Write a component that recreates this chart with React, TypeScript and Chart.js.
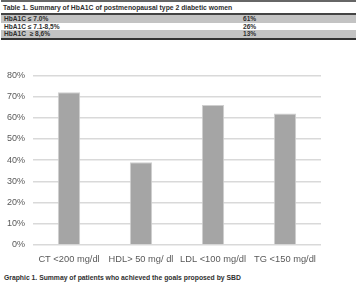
import React, { useEffect, useRef } from "react";
import { Chart, registerables } from "chart.js";

Chart.register(...registerables);

const tableTitle = "Table 1. Summary of HbA1C of postmenopausal type 2 diabetic women";
const tableLabels = ["HbA1C \u2264 7.0%", "HbA1C \u2264 7.1-8,5%", "HbA1C  \u2265 8,6%"];
const tableValues = ["61%", "26%", "13%"];

const categories = ["CT <200 mg/dl", "HDL> 50 mg/ dl", "LDL <100 mg/dl", "TG <150 mg/dl"];
const values = [0.72, 0.39, 0.66, 0.62];

const caption = "Graphic 1. Summay of patients who achieved the goals proposed by SBD";

const FONT = "'Liberation Sans', Arial, sans-serif";

export default function App() {
  const canvasRef = useRef<HTMLCanvasElement | null>(null);

  useEffect(() => {
    document.body.style.margin = "0";
    const canvas = canvasRef.current;
    if (!canvas) return;
    const chart = new Chart(canvas, {
      type: "bar",
      data: {
        labels: categories,
        datasets: [
          {
            data: values,
            backgroundColor: "#a5a5a5",
            borderColor: "#cfcfcf",
            borderWidth: 1,
            barPercentage: 0.31,
            categoryPercentage: 1,
          },
        ],
      },
      options: {
        animation: false,
        responsive: false,
        maintainAspectRatio: false,
        layout: { padding: { top: 12, right: 38, left: 0, bottom: 0 } },
        plugins: { legend: { display: false }, tooltip: { enabled: false } },
        scales: {
          x: {
            grid: { display: false, drawTicks: false },
            border: { display: false },
            ticks: {
              color: "#595959",
              font: { family: FONT, size: 9.3 },
              padding: 9,
              maxRotation: 0,
              autoSkip: false,
            },
            afterFit: (s: any) => {
              s.height = 22;
            },
          },
          y: {
            min: 0,
            max: 0.8,
            grid: { color: "#d9d9d9", lineWidth: 1.5, drawTicks: false },
            border: { display: false },
            ticks: {
              stepSize: 0.1,
              color: "#595959",
              font: { family: FONT, size: 9 },
              padding: 8,
              callback: (v: any) => Math.round(Number(v) * 100) + "%",
            },
            afterFit: (s: any) => {
              s.width = 33;
            },
          },
        },
      },
    });
    return () => chart.destroy();
  }, []);

  const rowStyle = (bg: string, top: number, h: number): React.CSSProperties => ({
    position: "absolute",
    left: 1,
    width: 355,
    top,
    height: h,
    background: bg,
    fontSize: 6.6,
    fontWeight: "bold",
    color: "#2f2f2f",
    lineHeight: h + "px",
    fontFamily: FONT,
  });

  return (
    <div style={{ position: "relative", width: 359, height: 287, background: "#fff", overflow: "hidden", fontFamily: FONT }}>
      <div style={{ position: "absolute", left: 1, top: 0, width: 355, height: 2, background: "#666" }} />
      <div
        style={{
          position: "absolute",
          left: 3,
          top: 2,
          height: 11,
          lineHeight: "11px",
          fontSize: 6.8,
          fontWeight: "bold",
          color: "#2f2f2f",
          whiteSpace: "nowrap",
        }}
      >
        {tableTitle}
      </div>
      <div style={{ position: "absolute", left: 1, top: 13, width: 355, height: 2, background: "#444" }} />
      {tableLabels.map((lab, i) => {
        const top = 15 + i * 7.5;
        return (
          <div key={i} style={rowStyle(i % 2 === 0 ? "#c3c3c3" : "#fff", top, 7.5)}>
            <span style={{ position: "absolute", left: 3, whiteSpace: "pre" }}>{lab}</span>
            <span style={{ position: "absolute", left: 242 }}>{tableValues[i]}</span>
          </div>
        );
      })}
      <div style={{ position: "absolute", left: 1, top: 37.5, width: 355, height: 2.5, background: "#333" }} />
      <canvas
        ref={canvasRef}
        width={359}
        height={205}
        style={{ position: "absolute", left: 0, top: 62, width: 359, height: 205 }}
      />
      <div
        style={{
          position: "absolute",
          left: 4,
          top: 273,
          height: 10,
          lineHeight: "10px",
          fontSize: 6.8,
          fontWeight: "bold",
          color: "#2f2f2f",
          whiteSpace: "nowrap",
        }}
      >
        {caption}
      </div>
    </div>
  );
}
